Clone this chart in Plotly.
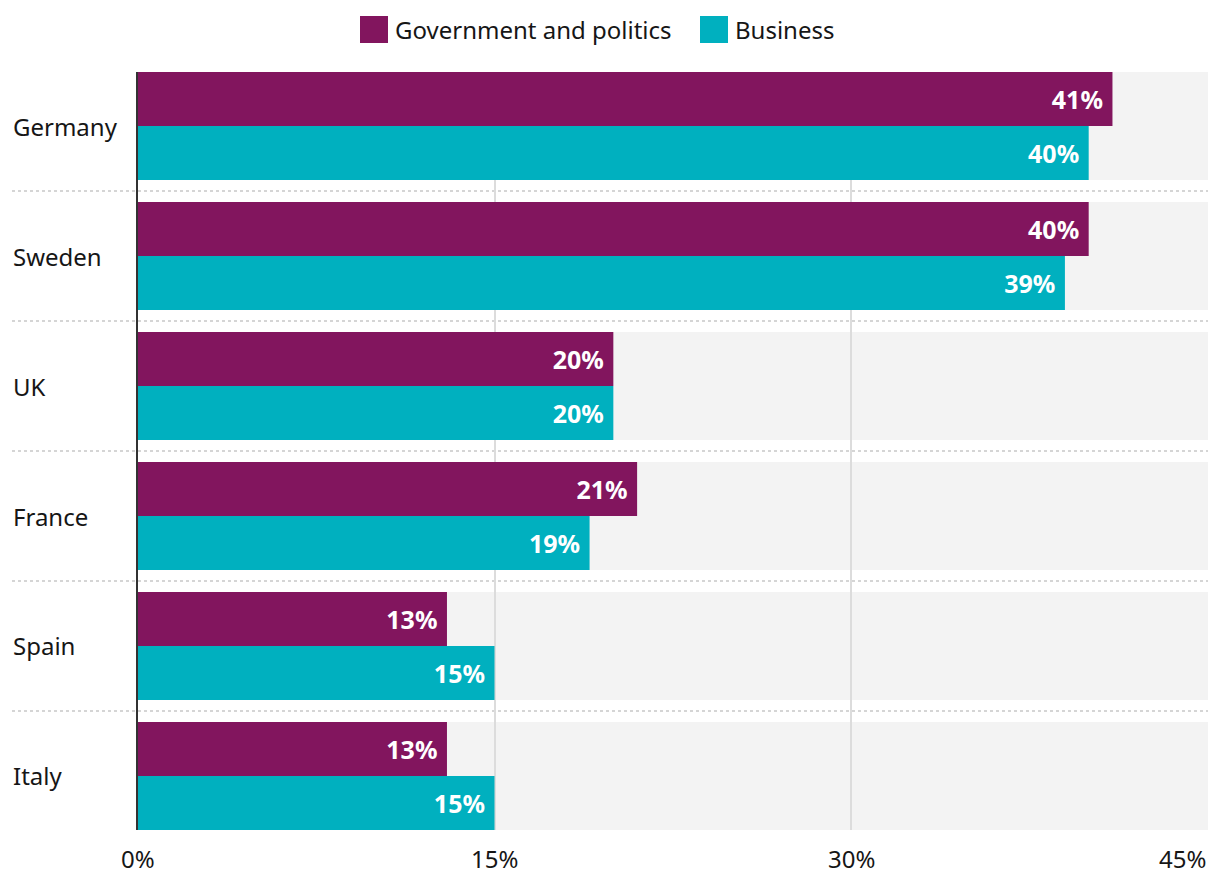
import plotly.graph_objects as go

categories = ["Germany", "Sweden", "UK", "France", "Spain", "Italy"]
series_names = ["Government and politics", "Business"]
gov_values = [41, 40, 20, 21, 13, 13]
business_values = [40, 39, 20, 19, 15, 15]
x_tick_values = [0, 15, 30, 45]
x_tick_labels = ["0%", "15%", "30%", "45%"]

colors = ["#82155e", "#00b0bf"]
FONT = "Noto Sans"

OFF = 8  # page body margin
W, H = 1220 - OFF, 882 - OFF
L, R, T, B = 138 - OFF, 1208 - OFF, 72 - OFF, 830 - OFF  # plot area in figure pixels

BARGAP = 0.169
half = (1 - BARGAP) / 2


def px_x(p):
    return (p - OFF - L) / (R - L)


def px_y(p):
    return (B - (p - OFF)) / (B - T)


fig = go.Figure()
for name, vals, col in zip(series_names, [gov_values, business_values], colors):
    fig.add_trace(go.Bar(
        y=categories, x=vals, name=name, orientation="h",
        marker=dict(color=col, line=dict(width=0)),
        text=[f"{v}%\u00a0" for v in vals],
        textposition="inside", insidetextanchor="end",
        textfont=dict(family=FONT, size=25, color="white", weight="bold"),
        constraintext="none",
        showlegend=False,
    ))

shapes = []
for i in range(len(categories)):
    shapes.append(dict(type="rect", xref="paper", yref="y", x0=0, x1=1,
                       y0=i - half, y1=i + half, fillcolor="#f3f3f3",
                       line=dict(width=0), layer="below"))
for i in range(len(categories) - 1):
    shapes.append(dict(type="line", xref="paper", yref="y", x0=px_x(12), x1=1,
                       y0=i + 0.5, y1=i + 0.5,
                       line=dict(color="#c8c8c8", width=1.5, dash="dot"),
                       layer="below"))

annotations = []
for c in categories:
    annotations.append(dict(text=c, xref="paper", yref="y", x=px_x(11), y=c,
                            xanchor="left", yanchor="middle", showarrow=False,
                            font=dict(family=FONT, size=24, color="#161616")))
for v, t in zip(x_tick_values, x_tick_labels):
    annotations.append(dict(text=t, xref="x", yref="paper", x=v, y=px_y(858),
                            xanchor="right" if v == x_tick_values[-1] else "center",
                            yanchor="middle", showarrow=False,
                            font=dict(family=FONT, size=24, color="#161616")))

# manual legend
legend_items = [(series_names[0], colors[0], 360), (series_names[1], colors[1], 700)]
for name, col, x0 in legend_items:
    shapes.append(dict(type="rect", xref="paper", yref="paper",
                       x0=px_x(x0), x1=px_x(x0 + 28), y0=px_y(43), y1=px_y(16),
                       fillcolor=col, line=dict(width=0)))
    annotations.append(dict(text=name, xref="paper", yref="paper",
                            x=px_x(x0 + 33), y=px_y(29), xanchor="left",
                            yanchor="middle", showarrow=False,
                            font=dict(family=FONT, size=24, color="#161616")))

fig.update_layout(
    width=W, height=H,
    margin=dict(l=L, r=W - R, t=T, b=H - B, pad=0),
    paper_bgcolor="white", plot_bgcolor="white",
    barmode="group", bargap=BARGAP, bargroupgap=0,
    font=dict(family=FONT, size=24, color="#161616"),
    xaxis=dict(range=[0, 45.02], tickvals=x_tick_values, showticklabels=False,
               showgrid=True, gridcolor="#dcdcdc", gridwidth=1.5,
               zeroline=False, showline=False, fixedrange=True),
    yaxis=dict(range=[len(categories) - 1 + half, -half],
               showticklabels=False, showgrid=False,
               showline=True, linecolor="#333333", linewidth=2,
               zeroline=False, fixedrange=True),
    shapes=shapes, annotations=annotations,
    showlegend=False,
)

fig.write_html("out.html")
